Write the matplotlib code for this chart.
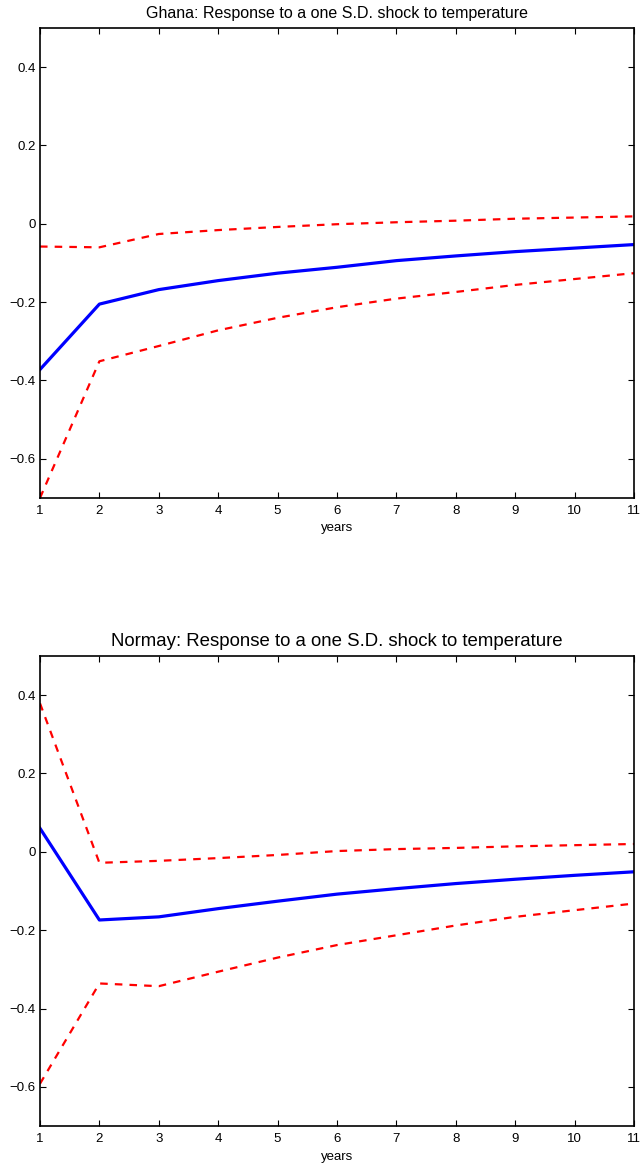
import numpy as np
import matplotlib
matplotlib.use('Agg')
import matplotlib.pyplot as plt

plt.rcParams['font.family'] = ['Liberation Sans', 'DejaVu Sans']

# impulse response horizon
years = [1, 2, 3, 4, 5, 6, 7, 8, 9, 10, 11]

# Ghana: response and confidence bands
ghana_irf = [-0.372, -0.205, -0.168, -0.145, -0.126, -0.111, -0.094, -0.082, -0.071, -0.062, -0.053]
ghana_upper = [-0.058, -0.060, -0.026, -0.016, -0.008, -0.001, 0.004, 0.008, 0.013, 0.016, 0.019]
ghana_lower = [-0.700, -0.351, -0.312, -0.272, -0.240, -0.213, -0.191, -0.174, -0.156, -0.141, -0.126]

# Normay: response and confidence bands
normay_irf = [0.060, -0.174, -0.166, -0.145, -0.126, -0.108, -0.094, -0.081, -0.070, -0.060, -0.051]
normay_upper = [0.379, -0.028, -0.023, -0.016, -0.008, 0.002, 0.007, 0.010, 0.014, 0.017, 0.020]
normay_lower = [-0.592, -0.336, -0.343, -0.306, -0.270, -0.238, -0.213, -0.188, -0.166, -0.149, -0.132]

fig = plt.figure(figsize=(6.41, 11.67), dpi=100)
ax1 = fig.add_axes([0.0624, 0.5733, 0.9266, 0.4027])
ax2 = fig.add_axes([0.0624, 0.0351, 0.9266, 0.4028])


def draw_panel(ax, irf, upper, lower, title, title_size):
    ax.plot(years, upper, color='red', linestyle='--', linewidth=1.6, dashes=(3.4, 3.2))
    ax.plot(years, lower, color='red', linestyle='--', linewidth=1.6, dashes=(3.4, 3.2))
    ax.plot(years, irf, color='blue', linewidth=2.3)
    ax.set_xlim(1, 11)
    ax.set_ylim(-0.7, 0.5)
    ax.set_xticks(years)
    ax.set_yticks([-0.6, -0.4, -0.2, 0, 0.2, 0.4])
    ax.set_yticklabels(['\u22120.6', '\u22120.4', '\u22120.2', '0', '0.2', '0.4'])
    ax.tick_params(direction='in', top=True, right=True, length=4, width=0.8,
                   labelsize=9.5)
    ax.tick_params(axis='x', pad=5)
    ax.tick_params(axis='y', pad=3)
    for s in ax.spines.values():
        s.set_linewidth(1.2)
    ax.set_xlabel('years', fontsize=9.5, labelpad=4)
    ax.set_title(title, fontsize=title_size, pad=7)


draw_panel(ax1, ghana_irf, ghana_upper, ghana_lower,
           'Ghana: Response to a one S.D. shock to temperature', 11.5)
draw_panel(ax2, normay_irf, normay_upper, normay_lower,
           'Normay: Response to a one S.D. shock to temperature', 13.4)

fig.savefig('out.png', dpi=100)
